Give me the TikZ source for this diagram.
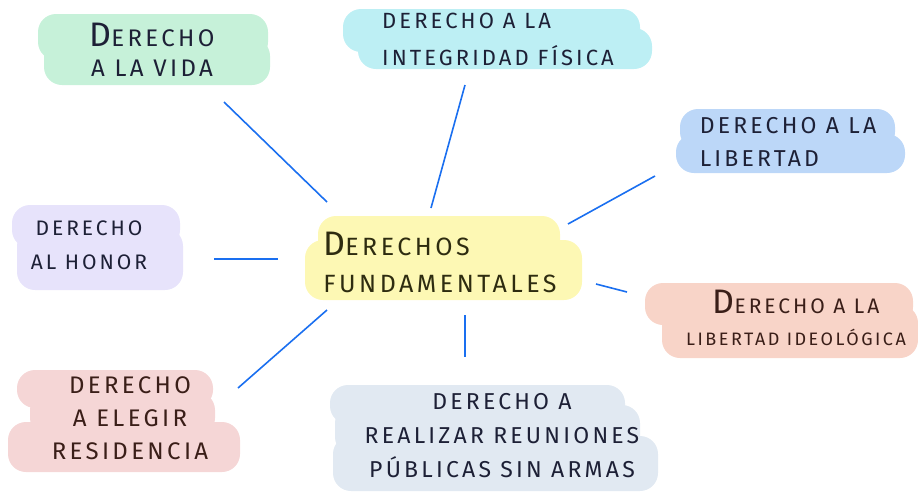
\documentclass[tikz,border=0pt]{standalone}
\usepackage{fontspec}
\setmainfont{Fira Sans}[LetterSpace=14]
\usepackage{xcolor}
\definecolor{vidaGreen}{HTML}{C6F1D9}
\definecolor{fisicaCyan}{HTML}{BDEFF4}
\definecolor{libBlue}{HTML}{BCD7F8}
\definecolor{honorLav}{HTML}{E7E3FB}
\definecolor{fundYellow}{HTML}{FDF8B4}
\definecolor{ideoSalmon}{HTML}{F8D4C8}
\definecolor{resPink}{HTML}{F5D6D6}
\definecolor{reuGrey}{HTML}{E1E9F2}
\definecolor{ink}{HTML}{1D2036}
\definecolor{oliveInk}{HTML}{2E2C10}
\definecolor{brownInk}{HTML}{3A1E18}
\definecolor{linkBlue}{HTML}{1A6FF0}

\newcommand{\Ini}[1]{{\fontsize{34}{34}\selectfont #1}}

\begin{document}
\begin{tikzpicture}[x=1pt, y=-1pt,
    band/.style={rounded corners=18pt},
    lbl/.style={inner sep=0pt, align=center, text=ink, font=\fontsize{23}{33}\selectfont},
    link/.style={draw=linkBlue, line width=1.6pt}]

    \useasboundingbox (0,0) rectangle (918,491);

    % derecho a la vida
    \fill[vidaGreen, band] (38,14) rectangle (268,60);
    \fill[vidaGreen, band] (44,38) rectangle (270,85);
    \node[lbl, font=\fontsize{24}{30}\selectfont] (vida) at (152,50) {\Ini{D}ERECHO\\A LA VIDA};

    % derecho a la integridad fisica
    \fill[fisicaCyan, band] (343,9) rectangle (640,52);
    \fill[fisicaCyan, band] (358,28) rectangle (652,69);
    \node[lbl, align=left, font=\fontsize{22}{37}\selectfont] (fisica) at (498,39) {DERECHO A LA\\INTEGRIDAD FÍSICA};

    % derecho a la libertad
    \fill[libBlue, band] (680,109) rectangle (895,150);
    \fill[libBlue, band] (676,134) rectangle (905,173);
    \node[lbl, align=left, font=\fontsize{23}{33}\selectfont] (libertad) at (788,142) {DERECHO A LA\\LIBERTAD};

    % derecho al honor
    \fill[honorLav, band] (12,205) rectangle (180,248);
    \fill[honorLav, band] (17,228) rectangle (183,290);
    \node[lbl, font=\fontsize{21}{34}\selectfont] (honor) at (89,245) {DERECHO\\AL HONOR};

    % derechos fundamentales
    \fill[fundYellow, band] (318,216) rectangle (560,266);
    \fill[fundYellow, band] (305,240) rectangle (582,300);
    \node[lbl, align=left, text=oliveInk, font=\fontsize{25}{37}\selectfont] (fund) at (440,262) {\Ini{D}ERECHOS\\FUNDAMENTALES};

    % derecho a la libertad ideologica
    \fill[ideoSalmon, band] (645,283) rectangle (913,325);
    \fill[ideoSalmon, band] (662,305) rectangle (918,358);
    \node[lbl, text=brownInk, font=\fontsize{18}{32}\selectfont] (ideo) at (796,318) {{\fontsize{21}{32}\selectfont\Ini{D}ERECHO A LA}\\LIBERTAD IDEOLÓGICA};

    % derecho a elegir residencia
    \fill[resPink, band] (17,370) rectangle (213,408);
    \fill[resPink, band] (30,392) rectangle (215,436);
    \fill[resPink, band] (8,422) rectangle (240,472);
    \node[lbl, text=brownInk, font=\fontsize{24}{33}\selectfont] (residencia) at (130,418) {DERECHO\\A ELEGIR\\RESIDENCIA};

    % derecho a realizar reuniones
    \fill[reuGrey, band] (330,385) rectangle (625,424);
    \fill[reuGrey, band] (335,405) rectangle (640,455);
    \fill[reuGrey, band] (333,436) rectangle (658,491);
    \node[lbl, font=\fontsize{23}{34}\selectfont] (reuniones) at (502,436) {DERECHO A\\REALIZAR REUNIONES\\PÚBLICAS SIN ARMAS};

    % connectors
    \coordinate (vida-a) at (327,202);
    \coordinate (vida-b) at (224,102);
    \draw[link] (vida-a) -- (vida-b);

    \coordinate (fisica-a) at (431,208);
    \coordinate (fisica-b) at (465,85);
    \draw[link] (fisica-a) -- (fisica-b);

    \coordinate (libertad-a) at (568,224);
    \coordinate (libertad-b) at (655,176);
    \draw[link] (libertad-a) -- (libertad-b);

    \coordinate (honor-a) at (278,259);
    \coordinate (honor-b) at (214,259);
    \draw[link] (honor-a) -- (honor-b);

    \coordinate (ideo-a) at (596,284);
    \coordinate (ideo-b) at (627,292);
    \draw[link] (ideo-a) -- (ideo-b);

    \coordinate (residencia-a) at (327,310);
    \coordinate (residencia-b) at (238,388);
    \draw[link] (residencia-a) -- (residencia-b);

    \coordinate (reuniones-a) at (465,315);
    \coordinate (reuniones-b) at (465,357);
    \draw[link] (reuniones-a) -- (reuniones-b);

\end{tikzpicture}
\end{document}
